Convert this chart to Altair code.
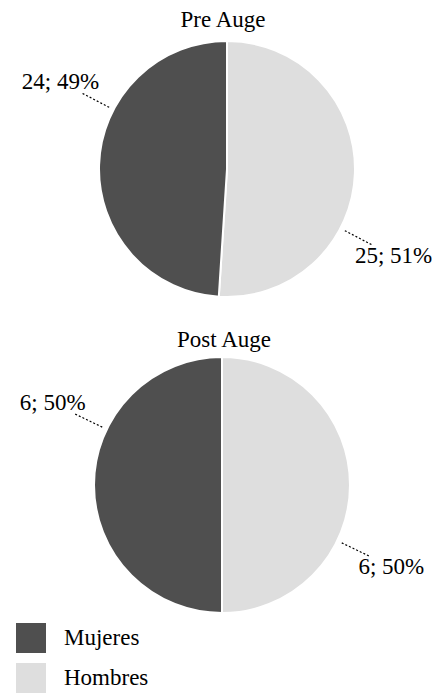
import altair as alt
import pandas as pd

# ---- data ----
paneles = ["Pre Auge", "Pre Auge", "Post Auge", "Post Auge"]
generos = ["Hombres", "Mujeres", "Hombres", "Mujeres"]
valores = [25, 24, 6, 6]

df = pd.DataFrame({"panel": paneles, "genero": generos, "valor": valores})

FONT = "Liberation Serif"
W, H = 433, 693
R = 128          # pie radius
R_TXT = 188      # label radius
R_L1, R_L2 = 133, 165   # leader line radii
OFF = 0.45       # label angle offset (radians)

color = alt.Color(
    "genero:N",
    scale=alt.Scale(domain=["Mujeres", "Hombres"], range=["#4f4f4f", "#dedede"]),
    legend=alt.Legend(
        orient="none", legendX=16, legendY=623, title=None,
        symbolType="square", symbolSize=900, symbolStrokeWidth=0, symbolOpacity=1,
        labelFont=FONT, labelFontSize=23, labelColor="black",
        labelOffset=18, rowPadding=10, padding=0,
    ),
)


def panel(name, cx, cy, tx, ty):
    base = alt.Chart(df).transform_filter(alt.datum.panel == name).transform_calculate(
        orden="datum.genero == 'Hombres' ? 0 : 1"
    )
    arcs = base.mark_arc(stroke="white", strokeWidth=2, outerRadius=R).encode(
        theta=alt.Theta("valor:Q", stack="normalize"),
        order=alt.Order("orden:Q"),
        color=color,
        x=alt.value(cx),
        y=alt.value(cy),
    )
    geo = (
        base.transform_joinaggregate(total="sum(valor)")
        .transform_window(acum="sum(valor)", sort=[alt.SortField("orden")], frame=[None, 0])
        .transform_calculate(
            ang=f"2*PI*(datum.acum - datum.valor/2)/datum.total + {OFF}",
            etiqueta="datum.valor + '; ' + round(100*datum.valor/datum.total) + '%'",
        )
        .transform_calculate(
            lx1=f"{cx} + {R_L1}*sin(datum.ang)",
            ly1=f"{cy} - {R_L1}*cos(datum.ang)",
            lx2=f"{cx} + {R_L2}*sin(datum.ang)",
            ly2=f"{cy} - {R_L2}*cos(datum.ang)",
            tx=f"{cx} + {R_TXT}*sin(datum.ang)",
            ty=f"{cy} - {R_TXT}*cos(datum.ang)",
        )
    )
    lines = geo.mark_rule(strokeDash=[2, 2], color="black", strokeWidth=1.2).encode(
        x=alt.X("lx1:Q", scale=None),
        x2="lx2:Q",
        y=alt.Y("ly1:Q", scale=None),
        y2="ly2:Q",
    )
    labels = geo.mark_text(font=FONT, fontSize=23, color="black", align="center",
                           baseline="middle").encode(
        x=alt.X("tx:Q", scale=None),
        y=alt.Y("ty:Q", scale=None),
        text="etiqueta:N",
    )
    title = alt.Chart(pd.DataFrame({"titulo": [name]})).mark_text(
        font=FONT, fontSize=23, color="black", align="center", baseline="alphabetic"
    ).encode(text="titulo:N", x=alt.value(tx), y=alt.value(ty))
    return [arcs, lines, labels, title]


layers = panel("Pre Auge", 227, 169, 223, 27) + panel("Post Auge", 222, 485, 224, 347)

chart = (
    alt.layer(*layers)
    .properties(width=W, height=H, autosize=alt.AutoSizeParams(type="none"), padding=0)
    .configure_view(stroke=None)
)

chart.save("out.html", embed_options={"renderer": "svg", "actions": False})
